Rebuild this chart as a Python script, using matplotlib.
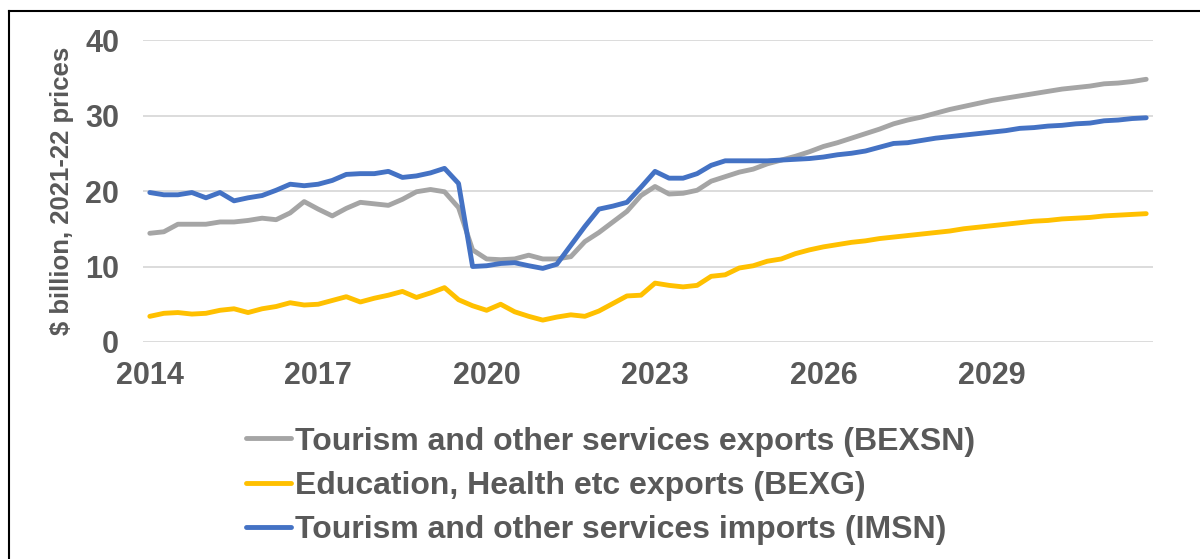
import numpy as np
import matplotlib.pyplot as plt
from matplotlib.lines import Line2D

plt.rcParams['font.family'] = ['Liberation Sans', 'DejaVu Sans']
plt.rcParams['font.weight'] = 'bold'
plt.rcParams['axes.labelweight'] = 'bold'

# quarterly, 2014 Q1 to 2031 Q4
start_year = 2014
n_quarters = 72

bexsn = [14.4, 14.6, 15.6, 15.6, 15.6, 15.9, 15.9, 16.1, 16.4, 16.2, 17.1, 18.6,
         17.6, 16.7, 17.7, 18.5, 18.3, 18.1, 18.9, 19.9, 20.2, 19.9, 17.8,
         12.2, 11.0, 10.9, 11.0, 11.5, 11.0, 11.0, 11.3, 13.3, 14.5, 15.9, 17.3,
         19.4, 20.6, 19.6, 19.7, 20.1, 21.3, 21.9, 22.5, 22.9, 23.6, 24.1, 24.6,
         25.2, 25.9, 26.4, 27.0, 27.6, 28.2, 28.9, 29.4, 29.8, 30.3, 30.8, 31.2,
         31.6, 32.0, 32.3, 32.6, 32.9, 33.2, 33.5, 33.7, 33.9, 34.2, 34.3, 34.5, 34.8]

bexg = [3.4, 3.8, 3.9, 3.7, 3.8, 4.2, 4.4, 3.9, 4.4, 4.7, 5.2, 4.9,
        5.0, 5.5, 6.0, 5.3, 5.8, 6.2, 6.7, 5.9, 6.5, 7.2, 5.6,
        4.8, 4.2, 5.0, 4.0, 3.4, 2.9, 3.3, 3.6, 3.4, 4.1, 5.1, 6.1,
        6.2, 7.8, 7.5, 7.3, 7.5, 8.7, 8.9, 9.8, 10.1, 10.7, 11.0, 11.7,
        12.2, 12.6, 12.9, 13.2, 13.4, 13.7, 13.9, 14.1, 14.3, 14.5, 14.7, 15.0,
        15.2, 15.4, 15.6, 15.8, 16.0, 16.1, 16.3, 16.4, 16.5, 16.7, 16.8, 16.9, 17.0]

imsn = [19.8, 19.5, 19.5, 19.8, 19.1, 19.8, 18.7, 19.1, 19.4, 20.1, 20.9, 20.7,
        20.9, 21.4, 22.2, 22.3, 22.3, 22.6, 21.8, 22.0, 22.4, 23.0, 21.0,
        10.0, 10.1, 10.4, 10.5, 10.1, 9.75, 10.3, 12.8, 15.3, 17.6, 18.0, 18.5,
        20.5, 22.6, 21.7, 21.7, 22.3, 23.4, 24.0, 24.0, 24.0, 24.0, 24.1, 24.2,
        24.3, 24.5, 24.8, 25.0, 25.3, 25.8, 26.3, 26.4, 26.7, 27.0, 27.2, 27.4,
        27.6, 27.8, 28.0, 28.3, 28.4, 28.6, 28.7, 28.9, 29.0, 29.3, 29.4, 29.6, 29.7]

labels = ['Tourism and other services exports (BEXSN)',
          'Education, Health etc exports (BEXG)',
          'Tourism and other services imports (IMSN)']
colors = ['#A5A5A5', '#FFC000', '#4472C4']
tick_years = [2014, 2017, 2020, 2023, 2026, 2029]

x = start_year + np.arange(n_quarters) / 4
txt = '#595959'

fig = plt.figure(figsize=(12, 5.59), dpi=100)
ax = fig.add_axes([0.119, 0.3882, 0.842, 0.5402])

for y, c, lab in zip([bexsn, bexg, imsn], colors, labels):
    ax.plot(x, y, color=c, lw=3.5, label=lab, solid_capstyle='round', solid_joinstyle='round')

ax.set_ylim(0, 40)
ax.set_yticks([0, 10, 20, 30, 40])
ax.set_xlim(start_year - 0.125, start_year + (n_quarters - 0.5) / 4)
ax.set_xticks(tick_years)
ax.set_xticklabels([str(t) for t in tick_years])
ax.grid(axis='y', color='#D9D9D9', lw=1.3)
ax.set_axisbelow(True)
for s in ax.spines.values():
    s.set_visible(False)
ax.tick_params(length=0, labelsize=22, labelcolor=txt, pad=14)
ax.tick_params(axis='y', pad=17)
ax.set_ylabel('$ billion, 2021-22 prices', fontsize=18.5, color=txt, labelpad=8)

fig.legend(loc='upper left', bbox_to_anchor=(0.205, 0.237), frameon=False,
           fontsize=23, labelcolor=txt, handlelength=1.4, handletextpad=0.12,
           labelspacing=0.45, borderpad=0, borderaxespad=0)

# outer frame (right and bottom edges are cut off in the original)
fig.add_artist(Line2D([0.0075, 1.0], [0.980, 0.980], color='black', lw=1.5, transform=fig.transFigure))
fig.add_artist(Line2D([0.0075, 0.0075], [0.0, 0.980], color='black', lw=1.5, transform=fig.transFigure))

fig.savefig('out.png', dpi=100)
